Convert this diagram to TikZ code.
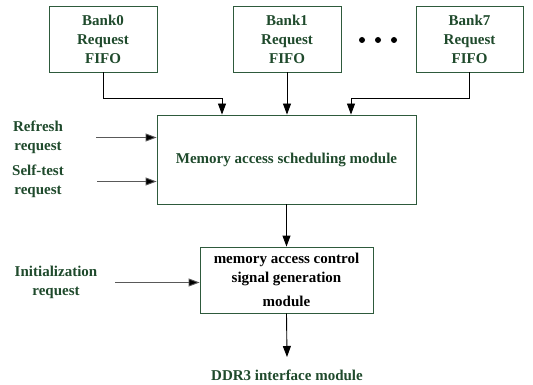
\documentclass[tikz,border=0pt]{standalone}
\usepackage{fontspec}
\setmainfont{Liberation Serif}
\usetikzlibrary{arrows.meta}
\definecolor{boxgreen}{HTML}{2E5A3C}
\definecolor{txtgreen}{HTML}{1F4A2C}
\tikzset{
  block/.style={draw=boxgreen, line width=0.9pt, align=center, inner sep=0pt,
    font=\fontsize{15}{19}\selectfont\bfseries, text=txtgreen},
  lbl/.style={align=center, inner sep=0pt, font=\fontsize{15}{19}\selectfont\bfseries, text=txtgreen},
  arr/.style={line width=0.9pt, -{Triangle[length=11pt,width=8pt,fill=black]}},
  inarr/.style={arr, draw=black!65},
}
\begin{document}
\begin{tikzpicture}[x=1pt,y=-1pt]
\useasboundingbox (0,0) rectangle (533,385);
\node[block, minimum width=108pt, minimum height=66pt] (b0) at (103,39) {Bank0\\Request\\FIFO};
\node[block, minimum width=108pt, minimum height=66pt] (b1) at (287,39) {Bank1\\Request\\FIFO};
\node[block, minimum width=107pt, minimum height=66pt] (b7) at (469.5,39) {Bank7\\Request\\FIFO};
\foreach \xx/\nm in {362/d1,378/d2,394/d3}
  \node[circle, fill=black, inner sep=0pt, minimum size=6pt] (\nm) at (\xx,40) {};
\node[block, minimum width=259pt, minimum height=89pt] (sched) at (286.5,159.5) {Memory access scheduling module};
\node[block, minimum width=173pt, minimum height=66pt, text=black] (ctrl) at (286.5,280) {memory access control\\signal generation\\[5pt]module};
\node[lbl] (refresh) at (38,137.5) {Refresh\\request};
\node[lbl] (selftest) at (38,181.5) {Self-test\\request};
\node[lbl] (init) at (56,282.5) {Initialization\\request};
\node[lbl] (ddr) at (287,375) {DDR3 interface module};
\coordinate (ddrtop) at (287,357);

\draw[arr] (b0.south) |- ([xshift=-64.5pt,yshift=16pt]sched.north) -- ([xshift=-64.5pt]sched.north);
\draw[arr] (b1.south) -- (b1.south |- sched.north);
\draw[arr] (b7.south) |- ([xshift=64.5pt,yshift=16pt]sched.north) -- ([xshift=64.5pt]sched.north);
\draw[inarr] ([xshift=33pt]refresh.east) -- (sched.west |- refresh.east);
\draw[inarr] ([xshift=33pt]selftest.east) -- (sched.west |- selftest.east);
\draw[inarr] ([xshift=18pt]init.east) -- (ctrl.west |- init.east);
\draw[arr] (sched.south -| ctrl.north) -- (ctrl.north);
\draw[arr] (ctrl.south) -- (ddrtop);
\end{tikzpicture}
\end{document}
